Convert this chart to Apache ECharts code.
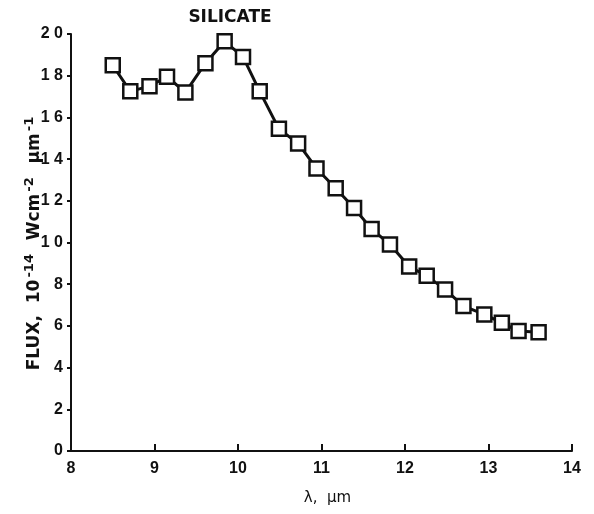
<!DOCTYPE html>
<html><head><meta charset="utf-8">
<script src="https://cdn.jsdelivr.net/npm/echarts@6/dist/echarts.min.js"></script>
<style>html,body{margin:0;padding:0;background:#fff}#c{width:594px;height:514px}</style>
</head><body><div id="c"></div>
<script>
const wavelength = [8.50, 8.71, 8.94, 9.15, 9.37, 9.61, 9.84, 10.06, 10.26, 10.49, 10.72, 10.94, 11.17, 11.39, 11.60, 11.82, 12.05, 12.26, 12.48, 12.70, 12.95, 13.16, 13.36, 13.60];
const flux = [18.5, 17.25, 17.5, 17.95, 17.2, 18.6, 19.65, 18.9, 17.25, 15.45, 14.75, 13.55, 12.6, 11.65, 10.65, 9.9, 8.85, 8.4, 7.75, 6.95, 6.55, 6.15, 5.75, 5.7];
const chartTitle = 'SILICATE';
const xName = 'λ,  μm';

const chart = echarts.init(document.getElementById('c'));
const font = 'Liberation Sans, Arial, sans-serif';
const wide = 'DejaVu Sans, sans-serif';
chart.setOption({
  animation: false,
  backgroundColor: '#fff',
  title: { text: chartTitle, left: 225, top: 4, textAlign: 'center',
    textStyle: { fontFamily: wide, fontWeight: 'bold', fontSize: 17, color: '#111' } },
  grid: { left: 71, right: 22, top: 34, bottom: 63 },
  xAxis: {
    type: 'value', min: 8, max: 14, interval: 1,
    name: xName, nameLocation: 'middle', nameGap: 40,
    nameTextStyle: { fontFamily: wide, fontSize: 15, color: '#111', padding: [0, 0, 0, 12] },
    axisLine: { lineStyle: { color: '#111', width: 2 } },
    axisTick: { inside: true, length: 7, lineStyle: { color: '#111', width: 2 } },
    axisLabel: { fontFamily: font, fontWeight: 'bold', fontSize: 16, color: '#111', margin: 10 },
    splitLine: { show: false }
  },
  yAxis: {
    type: 'value', min: 0, max: 20, interval: 2, position: 'left',
    name: '{a|FLUX,  10}{s|-14}{a|  Wcm}{s|-2}{a|  μm}{s|-1}',
    nameLocation: 'middle', nameGap: 24, nameRotate: 90, nameMoveOverlap: false,
    nameTextStyle: { fontFamily: wide, color: '#111',
      rich: {
        a: { fontFamily: wide, fontWeight: 'bold', fontSize: 17, color: '#111' },
        s: { fontFamily: wide, fontWeight: 'bold', fontSize: 13, color: '#111', padding: [0, 2, 11, 2] }
      } },
    axisLine: { show: true, lineStyle: { color: '#111', width: 2 } },
    axisTick: { show: true, length: 4, lineStyle: { color: '#111', width: 2 } },
    axisLabel: { fontFamily: font, fontWeight: 'bold', fontSize: 16, color: '#111', margin: 8,
      formatter: v => String(v).split('').join(' ') },
    splitLine: { show: false }
  },
  series: [{
    type: 'line',
    data: wavelength.map((x, i) => [x, flux[i]]),
    symbol: 'rect', symbolSize: 14,
    showAllSymbol: true,
    lineStyle: { color: '#111', width: 3 },
    itemStyle: { color: '#fff', borderColor: '#111', borderWidth: 2.5 },
    z: 3
  }]
});
</script></body></html>
